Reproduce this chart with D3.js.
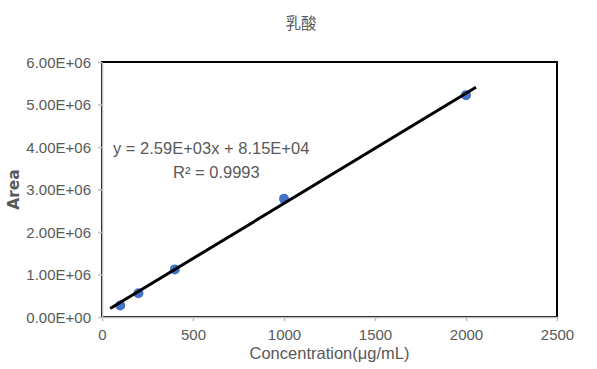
<!DOCTYPE html>
<html><head><meta charset="utf-8">
<script src="https://cdn.jsdelivr.net/npm/d3@7"></script>
<style>body{margin:0;background:#fff}svg{display:block}</style>
</head><body><svg id="c" width="597" height="369"></svg>
<script>
const title = "乳酸";
const concentrations = [100, 200, 400, 1000, 2000];
const areas = [0.27e6, 0.56e6, 1.12e6, 2.78e6, 5.22e6];
const trendSlope = [2.59e3];
const trendIntercept = [8.15e4];
const trendRange = [45, 2055];
const xTicks = [0, 500, 1000, 1500, 2000, 2500];
const yTicks = [0, 1e6, 2e6, 3e6, 4e6, 5e6, 6e6];
const yTickLabels = ["0.00E+00","1.00E+06","2.00E+06","3.00E+06","4.00E+06","5.00E+06","6.00E+06"];
const equationText = ["y = 2.59E+03x + 8.15E+04", "R² = 0.9993"];

const svg = d3.select("#c");
const L = 102, R = 557, T = 62, B = 317;
const x = d3.scaleLinear().domain([0, 2500]).range([L, R]);
const y = d3.scaleLinear().domain([0, 6e6]).range([B, T]);
const grey = "#595959";
const font = "'Liberation Sans', Arial, sans-serif";

svg.append("text").attr("x", 301).attr("y", 29).attr("text-anchor", "middle")
  .attr("font-family", "'Noto Sans CJK SC', sans-serif").attr("font-size", 15.5).attr("fill", grey).text(title);

// plot area border
svg.append("rect").attr("x", L).attr("y", T).attr("width", R - L).attr("height", B - T)
  .attr("fill", "none").attr("stroke", "#000").attr("stroke-width", 2);

const xAxis = svg.append("g").attr("transform", `translate(0,${B})`)
  .call(d3.axisBottom(x).tickValues(xTicks).tickSize(4).tickSizeOuter(0).tickFormat(d3.format("d")));
const yAxis = svg.append("g").attr("transform", `translate(${L},0)`)
  .call(d3.axisLeft(y).tickValues(yTicks).tickSize(4).tickSizeOuter(0).tickFormat((d, i) => yTickLabels[i]));
[xAxis, yAxis].forEach(g => {
  g.select(".domain").attr("stroke", "#bfbfbf").attr("stroke-width", 1.5);
  g.selectAll(".tick line").attr("stroke", "#bfbfbf").attr("stroke-width", 1.5);
  g.selectAll(".tick text").attr("fill", grey).attr("font-family", font).attr("font-size", 15);
});
xAxis.selectAll(".tick text").attr("dy", null).attr("y", 23);
yAxis.selectAll(".tick text").attr("x", -11).attr("dy", "0.36em");

const tl = trendRange.map(v => [v, trendSlope[0] * v + trendIntercept[0]]);

svg.append("g").selectAll("circle").data(concentrations).join("circle")
  .attr("cx", (d) => x(d)).attr("cy", (d, i) => y(areas[i])).attr("r", 5)
  .attr("fill", "#4472C4");

// trendline over markers
svg.append("path").datum(tl)
  .attr("d", d3.line().x(d => x(d[0])).y(d => y(d[1])))
  .attr("stroke", "#000").attr("stroke-width", 3).attr("fill", "none");

svg.append("text").attr("x", 113).attr("y", 154).attr("font-family", font).attr("font-size", 16.5)
  .attr("fill", grey).text(equationText[0]);
svg.append("text").attr("x", 173).attr("y", 178).attr("font-family", font).attr("font-size", 16.5)
  .attr("fill", grey).text(equationText[1]);

svg.append("text").attr("x", (L + R) / 2).attr("y", 359).attr("text-anchor", "middle")
  .attr("font-family", font).attr("font-size", 16.5).attr("fill", grey).text("Concentration(μg/mL)");
svg.append("text").attr("transform", `translate(19,${(T + B) / 2}) rotate(-90)`).attr("text-anchor", "middle")
  .attr("font-family", "'DejaVu Sans', sans-serif").attr("font-weight", "bold").attr("font-size", 15.5).attr("fill", grey).text("Area");
</script></body></html>
